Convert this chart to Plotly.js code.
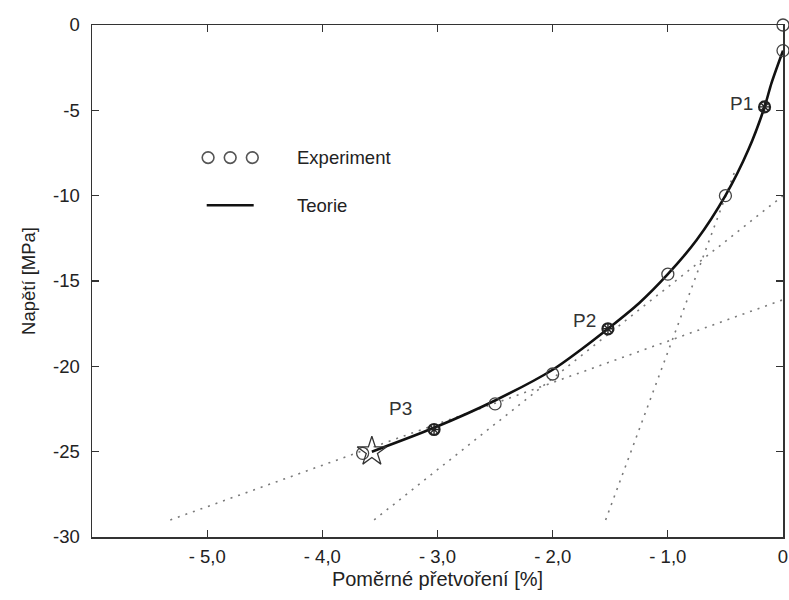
<!DOCTYPE html>
<html>
<head>
<meta charset="utf-8">
<script src="https://cdn.plot.ly/plotly-3.0.1.min.js"></script>
<style>html,body{margin:0;padding:0;background:#fff;}#chart{width:789px;height:600px;}</style>
</head>
<body>
<div id="chart"></div>
<script>
// Experiment (open circles)
const expX = [0, 0, -0.5, -1.0, -2.0, -2.5, -3.65];
const expY = [0, -1.5, -10.0, -14.6, -20.45, -22.2, -25.1];
// Marked points P1..P3
const pNames = ["P1", "P2", "P3"];
const pX = [-0.16, -1.52, -3.03];
const pY = [-4.8, -17.8, -23.7];
// End point (star)
const starX = [-3.57];
const starY = [-25.0];
// Theory curve
const theoX = [0, -0.1, -0.16, -0.3, -0.5, -0.75, -1.0, -1.25, -1.52, -1.75, -2.0, -2.5, -3.03, -3.57];
const theoY = [-1.5, -3.4, -4.8, -7.3, -10.0, -12.6, -14.6, -16.3, -17.8, -19.0, -20.2, -22.0, -23.6, -25.0];
// Tangent lines (dotted)
const t1X = [-1.54, -0.42], t1Y = [-29.0, -8.6];
const t2X = [-3.55, 0], t2Y = [-29.0, -10.0];
const t3X = [-5.32, 0], t3Y = [-29.0, -16.1];
// Tick labels
const xTickVals = [-5, -4, -3, -2, -1, 0];
const xTickText = ["- 5,0", "- 4,0", "- 3,0", "- 2,0", "- 1,0", "0"];
const yTickVals = [0, -5, -10, -15, -20, -25, -30];
const yTickText = ["0", "-5", "-10", "-15", "-20", "-25", "-30"];

const font = "Liberation Sans, Arial, sans-serif";
const dotted = {color: "#7a7a7a", width: 1.6, dash: "2px,6px"};

const traces = [
  {x: t1X, y: t1Y, mode: "lines", line: dotted, hoverinfo: "skip"},
  {x: t2X, y: t2Y, mode: "lines", line: dotted, hoverinfo: "skip"},
  {x: t3X, y: t3Y, mode: "lines", line: dotted, hoverinfo: "skip"},
  {x: theoX, y: theoY, mode: "lines", name: "Teorie", line: {color: "#111", width: 2.6, shape: "spline", smoothing: 0.8}},
  {x: expX, y: expY, mode: "markers", name: "Experiment", cliponaxis: false,
   marker: {symbol: "circle-open", size: 12, color: "#444", line: {width: 1.3, color: "#444"}}},
  {x: pX, y: pY, mode: "markers", cliponaxis: false,
   marker: {symbol: "circle-open", size: 11, color: "#222", line: {width: 2.2, color: "#222"}}},
  {x: pX, y: pY, mode: "markers", cliponaxis: false,
   marker: {symbol: "asterisk-open", size: 8, color: "#222", line: {width: 1.4, color: "#222"}}},
  {x: starX, y: starY, mode: "markers", cliponaxis: false,
   marker: {symbol: "star-open", size: 22, color: "#333", line: {width: 1.3, color: "#333"}}}
];

const annotations = pNames.map((n, i) => ({
  x: pX[i], y: pY[i], xref: "x", yref: "y", text: n, showarrow: false,
  xanchor: "right", yanchor: "bottom", xshift: [-10, -10, -20][i], yshift: [-9, -4, 8][i],
  font: {family: font, size: 19, color: "#333"}
}));
annotations.push(
  {xref: "paper", yref: "paper", x: 0.294, y: 0.741, text: "Experiment", showarrow: false, xanchor: "left", yanchor: "middle", font: {family: font, size: 18.5, color: "#222"}},
  {xref: "paper", yref: "paper", x: 0.294, y: 0.648, text: "Teorie", showarrow: false, xanchor: "left", yanchor: "middle", font: {family: font, size: 18.5, color: "#222"}}
);

// legend symbols (paper coords)
const shapes = [];
[0.168, 0.2, 0.232].forEach(cx => {
  shapes.push({type: "circle", xref: "paper", yref: "paper", x0: cx - 0.0085, x1: cx + 0.0085, y0: 0.741 - 0.0112, y1: 0.741 + 0.0112, line: {color: "#555", width: 1.6}});
});
shapes.push({type: "line", xref: "paper", yref: "paper", x0: 0.166, x1: 0.234, y0: 0.648, y1: 0.648, line: {color: "#111", width: 2.6}});

const axisCommon = {
  showgrid: false, zeroline: false, showline: true, linecolor: "#333", linewidth: 1.5,
  mirror: "ticks", ticks: "inside", ticklen: 7, tickwidth: 1.3, tickcolor: "#333",
  tickfont: {family: font, size: 18.5, color: "#222"}
};

const layout = {
  width: 789, height: 600,
  margin: {l: 92, r: 6, t: 25, b: 63},
  paper_bgcolor: "#fff", plot_bgcolor: "#fff",
  showlegend: false,
  xaxis: Object.assign({}, axisCommon, {
    range: [-6.0, 0], tickmode: "array", tickvals: xTickVals, ticktext: xTickText,
    ticklabelstandoff: 2,
    title: {text: "Poměrné přetvoření [%]", font: {family: font, size: 20, color: "#222"}, standoff: 6}
  }),
  yaxis: Object.assign({}, axisCommon, {
    range: [-30, 0], tickmode: "array", tickvals: yTickVals, ticktext: yTickText,
    ticklabelstandoff: 7,
    title: {text: "Napětí [MPa]", font: {family: font, size: 18.5, color: "#222"}, standoff: 12}
  }),
  annotations: annotations,
  shapes: shapes
};

Plotly.newPlot("chart", traces, layout, {displayModeBar: false, staticPlot: true});
</script>
</body>
</html>
